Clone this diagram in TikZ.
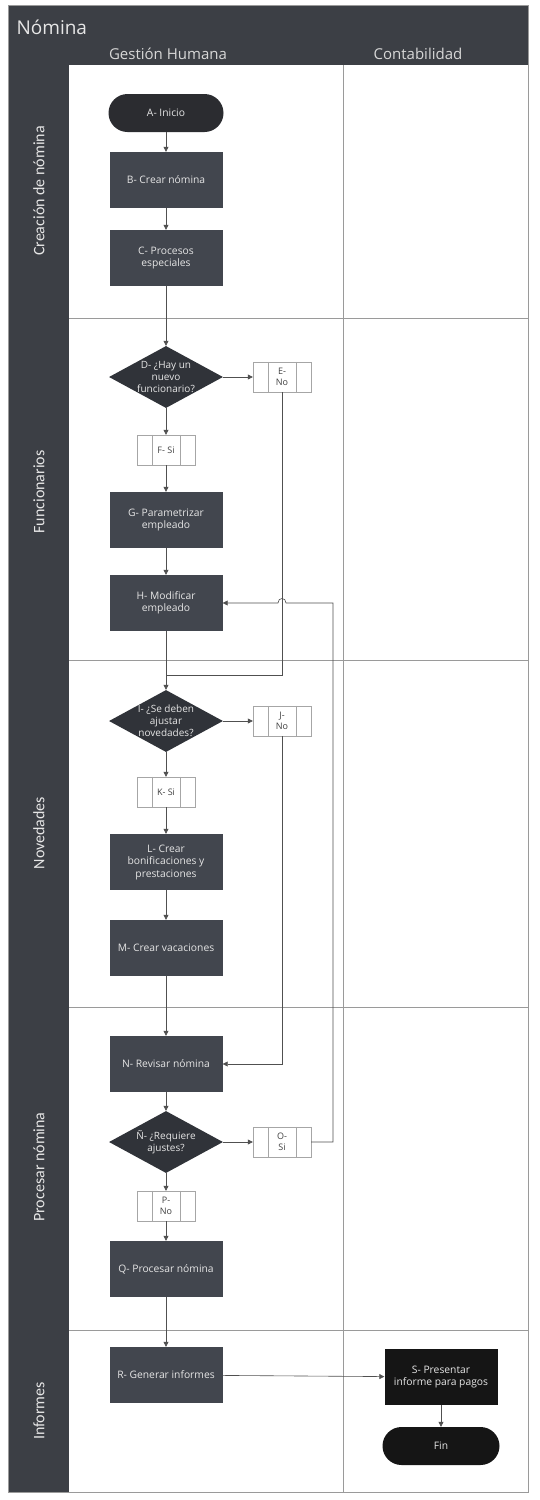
\documentclass[tikz,border=0pt]{standalone}
\usepackage{fontspec}
\setmainfont{Carlito}
\newfontfamily\hdr{Open Sans}
\usetikzlibrary{shapes.geometric,arrows.meta}
\definecolor{hdrc}{HTML}{3C3F45}
\definecolor{procc}{HTML}{42464E}
\definecolor{termc}{HTML}{2B2C30}
\definecolor{decc}{HTML}{303339}
\definecolor{blk}{HTML}{151515}
\definecolor{lanel}{HTML}{9A9A9A}
\definecolor{conn}{HTML}{505050}
\definecolor{ntext}{HTML}{E6E6E6}
\begin{document}
\begin{tikzpicture}[x=1pt,y=-1pt,
  proc/.style={rectangle, fill=procc, minimum width=113pt, minimum height=56pt,
    text=ntext, font=\hdr\fontsize{10.3}{12.5}\selectfont, align=center, inner sep=1pt},
  term/.style={rectangle, rounded corners=19pt, fill=termc, minimum width=115pt,
    minimum height=38pt, text=ntext, font=\hdr\fontsize{10.3}{12.5}\selectfont, inner sep=1pt},
  decshape/.style={diamond, fill=decc, minimum width=114pt, minimum height=62pt, inner sep=0pt},
  dtext/.style={text=ntext, font=\hdr\fontsize{10}{12}\selectfont, align=center, inner sep=0pt},
  pp/.style={rectangle, draw=gray!70, fill=white, minimum width=58pt, minimum height=30pt,
    font=\hdr\fontsize{9}{10.5}\selectfont, text=black!75, align=center, inner sep=1pt},
  lanelab/.style={rotate=90, text=ntext, font=\fontsize{16}{18}\selectfont},
  ln/.style={draw=conn, line width=0.6pt},
  arr/.style={ln, -{Triangle[length=5pt,width=5pt]}},
]
\useasboundingbox (0,0) rectangle (540,1500);
\fill[white] (0,0) rectangle (540,1500);
% frame
\fill[hdrc] (8,5) rectangle (528,65);
\fill[hdrc] (8,65) rectangle (69,1492);
\draw[lanel, line width=0.8pt] (8,5) rectangle (528,1492);
% lanes
\draw[lanel, line width=0.8pt] (343,65) -- (343,1492);
\foreach \yy in {318,660,1007,1330} {\draw[lanel, line width=0.8pt] (69,\yy) -- (528,\yy);}
% header texts
\node[text=ntext, font=\hdr\fontsize{19}{21}\selectfont, anchor=west] (title) at (13,27) {Nómina};
\node[text=ntext!85!gray, font=\hdr\fontsize{15}{17}\selectfont] (gh) at (168,54) {Gestión Humana};
\node[text=ntext!85!gray, font=\hdr\fontsize{15}{17}\selectfont] (ct) at (418,54) {Contabilidad};
% lane labels
\node[lanelab] (l1) at (39,191) {Creación de nómina};
\node[lanelab] (l2) at (39,492) {Funcionarios};
\node[lanelab] (l3) at (39,833) {Novedades};
\node[lanelab] (l4) at (39,1167) {Procesar nómina};
\node[lanelab] (l5) at (39,1411) {Informes};
% nodes
\node[term] (A) at (166,113) {A- Inicio};
\node[proc] (B) at (166,180) {B- Crear nómina};
\node[proc] (C) at (166,258) {C- Procesos\\especiales};
\node[decshape] (D) at (166,377) {};
\node[dtext] (Dt) at (D) {D- ¿Hay un\\nuevo\\funcionario?};
\node[pp] (E) at (282,377) {E-\\No};
\node[pp] (F) at (166,450) {F- Si};
\node[proc] (G) at (166,520) {G- Parametrizar\\empleado};
\node[proc] (H) at (166,603) {H- Modificar\\empleado};
\node[decshape] (I) at (166,721) {};
\node[dtext] (It) at (I) {I- ¿Se deben\\ajustar\\novedades?};
\node[pp] (J) at (282,721) {J-\\No};
\node[pp] (K) at (166,792) {K- Si};
\node[proc] (L) at (166,862) {L- Crear\\bonificaciones y\\prestaciones};
\node[proc] (M) at (166,948) {M- Crear vacaciones};
\node[proc] (N) at (166,1064) {N- Revisar nómina};
\node[decshape] (Nn) at (166,1142) {};
\node[dtext] (Nnt) at (Nn) {Ñ- ¿Requiere\\ajustes?};
\node[pp] (O) at (282,1142) {O-\\Si};
\node[pp] (P) at (166,1206) {P-\\No};
\node[proc] (Q) at (166,1269) {Q- Procesar nómina};
\node[proc] (R) at (166,1375) {R- Generar informes};
\node[proc, fill=blk] (S) at (441,1377) {S- Presentar\\informe para pagos};
\node[term, fill=blk, minimum width=117pt] (Fin) at (441,1446) {Fin};
% predefined-process inner lines
\foreach \n in {E,F,J,K,O,P} {
  \draw[gray!70] ([xshift=15pt]\n.north west) -- ([xshift=15pt]\n.south west);
  \draw[gray!70] ([xshift=-15pt]\n.north east) -- ([xshift=-15pt]\n.south east);
}
% coordinates
\coordinate (jn) at (166,675);
\coordinate (lb) at (333,1142);
\coordinate (lt) at (333,603);
\coordinate (h1) at (286,603);
\coordinate (h2) at (278,603);
% connectors
\draw[arr] (A) -- (B);
\draw[arr] (B) -- (C);
\draw[arr] (C) -- (D);
\draw[arr] (D) -- (E);
\draw[arr] (D) -- (F);
\draw[arr] (F) -- (G);
\draw[arr] (G) -- (H);
\draw[arr] (H) -- (I);
\draw[ln] (E.south) |- (jn);
\draw[arr] (I) -- (J);
\draw[arr] (I) -- (K);
\draw[arr] (K) -- (L);
\draw[arr] (L) -- (M);
\draw[arr] (M) -- (N);
\draw[arr] (J.south) |- (N.east);
\draw[arr] (N) -- (Nn);
\draw[arr] (Nn) -- (O);
\draw[arr] (Nn) -- (P);
\draw[arr] (P) -- (Q);
\draw[arr] (Q) -- (R);
\draw[arr] (O.east) -- (lb) -- (lt) -- (h1) .. controls +(0,-6) and +(0,-6) .. (h2) -- (H.east);
\draw[arr] (R) -- (S);
\draw[arr] (S) -- (Fin);
\end{tikzpicture}
\end{document}
